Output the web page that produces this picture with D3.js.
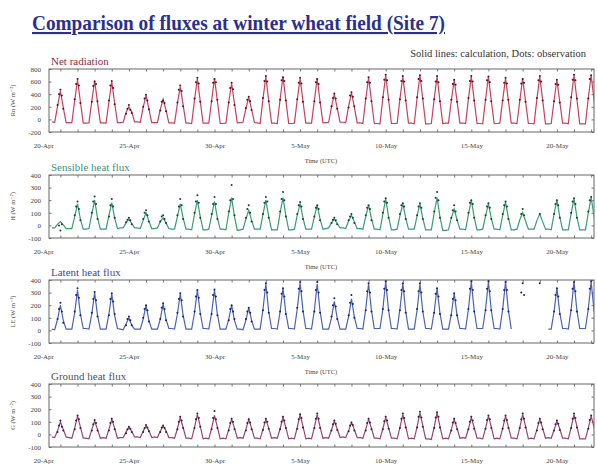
<!DOCTYPE html>
<html>
<head>
  <style>
    body { margin: 0; background: #fff; }
    svg text { font-family: "Liberation Serif", "DejaVu Serif", serif; }
    .line { fill: none; stroke-width: 1.2; }
  </style>
</head>
<body>
<svg id="chart" width="597" height="470"></svg>
<script src="https://d3js.org/d3.v7.min.js"></script>
<script>
// daily rows, calculation at peak -12,-8,-4,0,+4,+8 h ; observation at peak -4,-2,0,+2,+4 h
// first row = 21-Apr, last row = 22-May
const calcHours = [-12, -8, -4, 0, 4, 8];
const obsHours = [-4, -2, 0, 2, 4];
const dateTicks = ["2003-04-20", "2003-04-25", "2003-04-30", "2003-05-05", "2003-05-10", "2003-05-15", "2003-05-20"];

const rnCalc = [
  [-40,-45,210,450,190,-50],[-50,-55,300,630,280,-60],[-60,-55,290,615,270,-55],[-55,-60,280,600,260,-50],
  [-50,-45,110,200,120,-40],[-40,-45,190,380,170,-50],[-50,-50,160,320,150,-55],[-55,-60,250,520,230,-60],
  [-60,-65,310,650,290,-60],[-60,-60,300,650,300,-65],[-65,-60,280,570,250,-55],[-50,-45,170,350,160,-50],
  [-55,-65,330,680,300,-60],[-60,-65,320,680,310,-65],[-65,-60,310,650,290,-60],[-60,-60,300,650,280,-55],
  [-50,-45,200,400,180,-45],[-45,-50,210,420,200,-55],[-55,-65,320,660,300,-65],[-65,-70,340,700,320,-65],
  [-65,-65,330,680,310,-60],[-60,-70,340,700,320,-70],[-70,-65,330,680,300,-65],[-60,-60,300,625,290,-60],
  [-60,-65,330,680,310,-65],[-65,-70,320,680,300,-65],[-65,-60,310,650,300,-60],[-60,-65,300,650,290,-65],
  [-65,-70,330,680,310,-70],[-70,-65,300,625,280,-60],[-60,-70,340,700,320,-70],[-70,-70,340,700,320,-65]
];
const rnObs = [
  [230,400,470,380,170],[320,560,640,540,260],[280,530,600,560,290],[300,540,610,500,240],
  [90,170,230,150,100],[200,330,390,300,160],[140,280,300,260,130],[270,470,540,450,210],
  [330,590,660,570,280],[290,580,640,590,310],[270,500,580,480,230],[180,310,360,290,150],
  [340,610,690,600,290],[310,620,670,610,300],[320,580,660,570,280],[290,590,640,560,270],
  [210,340,410,330,170],[190,380,430,360,210],[330,590,670,580,290],[350,630,710,620,310],
  [320,610,690,600,300],[350,640,700,610,330],[320,600,690,590,290],[310,560,630,550,280],
  [340,610,690,600,300],[310,620,680,590,290],[300,580,660,570,310],[310,570,640,580,280],
  [340,620,690,600,300],[290,560,630,550,270],[350,630,710,620,330],[330,640,700,null,null]
];

const hCalc = [
  [-20,-20,10,30,5,-25],[-25,-25,70,170,50,-30],[-30,-25,90,200,60,-30],[-30,-30,80,180,60,-25],
  [-20,-20,20,50,15,-20],[-20,-25,40,100,35,-25],[-25,-20,30,60,20,-25],[-30,-30,70,170,60,-30],
  [-30,-35,90,200,70,-35],[-35,-30,80,190,60,-30],[-30,-35,100,220,70,-40],[-35,-30,50,120,40,-30],
  [-30,-30,90,200,70,-35],[-35,-35,100,220,80,-35],[-35,-30,80,175,60,-30],[-30,-30,70,160,50,-30],
  [-25,-20,20,50,15,-20],[-20,-25,35,80,30,-25],[-25,-30,70,160,55,-30],[-30,-35,90,210,70,-35],
  [-35,-30,80,170,60,-30],[-30,-30,75,170,55,-35],[-35,-35,100,220,70,-40],[-40,-35,60,130,45,-30],
  [-30,-35,90,200,65,-35],[-35,-30,75,170,55,-30],[-30,-35,80,185,60,-35],[-35,-30,45,100,35,-30],
  [-30,-30,40,90,30,-30],[-30,-35,90,200,70,-35],[-35,-35,95,210,70,-35],[-35,-35,100,220,75,-30]
];
const hObs = [
  [null,0,-40,10,null],[80,150,190,130,40],[100,190,230,170,50],[70,160,210,150,60],
  [25,45,60,40,10],[50,100,120,80,30],[30,70,80,50,20],[80,150,210,160,50],
  [100,190,240,180,60],[90,170,225,170,50],[110,200,320,210,80],[60,130,160,100,30],
  [90,180,225,190,60],[110,210,265,200,70],[90,160,185,150,50],[70,140,160,130,40],
  [20,45,60,40,10],[40,70,90,60,20],[80,140,160,130,40],[100,190,215,180,60],
  [90,160,175,150,50],[80,150,175,140,50],[110,220,265,200,60],[60,120,160,110,40],
  [100,180,200,170,60],[80,150,175,140,50],[90,160,190,150,50],[null,90,130,80,null],
  [null,null,90,null,null],[90,170,200,160,60],[100,190,215,170,60],[110,200,225,null,null]
];

const leCalc = [
  [10,5,90,200,80,10],[10,10,140,320,130,15],[15,10,130,300,120,10],[10,10,130,290,120,15],
  [10,5,50,100,40,10],[10,10,90,200,80,10],[10,10,90,210,90,15],[15,10,130,290,120,10],
  [10,10,140,320,140,15],[15,10,140,320,130,10],[10,10,90,200,80,10],[10,5,80,180,80,10],
  [10,10,170,370,150,15],[15,10,150,335,140,15],[15,10,170,375,160,15],[15,10,160,370,150,10],
  [10,10,100,230,100,10],[10,10,110,250,110,15],[15,10,170,370,160,15],[15,15,170,385,160,15],
  [15,10,170,375,150,10],[10,10,160,370,150,15],[15,10,150,335,140,10],[10,10,130,295,120,15],
  [15,10,170,385,160,15],[15,15,170,385,160,15],[15,10,170,385,160,10],[null,null,null,null,null,null],
  [null,null,null,null,null,null],[10,10,150,335,140,15],[15,10,170,385,160,15],[15,15,170,385,160,15]
];
const leObs = [
  [90,170,220,150,60],[150,280,335,260,120],[140,250,305,240,110],[120,250,295,230,130],
  [40,90,110,80,40],[100,170,200,160,70],[90,180,215,170,80],[140,250,295,240,110],
  [150,270,320,260,130],[130,280,325,270,120],[80,170,200,150,90],[90,150,180,140,70],
  [160,320,375,300,140],[150,290,335,270,130],[180,330,385,310,150],[150,320,385,300,140],
  [110,200,255,190,90],[120,220,280,210,100],[160,310,375,300,150],[170,330,390,320,160],
  [160,320,375,310,140],[170,310,375,300,150],[140,290,335,270,130],[120,250,295,240,120],
  [170,330,390,320,150],[160,330,390,310,160],[170,320,385,320,150],[null,300,375,280,null],
  [null,null,375,null,null],[150,280,335,270,130],[160,330,385,310,150],[170,330,390,null,null]
];

const gCalc = [
  [-20,-25,30,100,40,-20],[-25,-30,50,145,60,-30],[-30,-35,40,106,40,-30],[-25,-30,40,119,50,-30],
  [-25,-25,20,56,25,-20],[-20,-25,25,67,30,-25],[-20,-25,25,67,30,-25],[-25,-30,45,134,55,-30],
  [-30,-35,55,158,65,-35],[-30,-35,50,150,60,-35],[-30,-35,40,119,50,-30],[-25,-30,40,119,50,-30],
  [-30,-35,40,119,50,-30],[-25,-30,45,134,55,-35],[-30,-35,55,158,65,-35],[-30,-35,55,158,60,-30],
  [-25,-30,35,106,45,-25],[-20,-25,30,93,40,-25],[-25,-30,40,119,50,-30],[-30,-35,45,134,55,-30],
  [-30,-35,55,158,65,-35],[-30,-35,60,171,70,-35],[-35,-40,60,171,65,-35],[-30,-35,40,119,50,-30],
  [-25,-30,45,134,55,-30],[-30,-35,50,145,60,-35],[-30,-35,50,145,60,-30],[-30,-35,55,158,65,-35],
  [-30,-35,40,119,50,-30],[-25,-30,35,106,45,-30],[-30,-35,55,158,65,-35],[-35,-35,50,145,60,-30]
];
const gObs = [
  [20,70,110,60,30],[40,110,150,120,50],[30,80,115,90,30],[30,90,125,100,40],
  [10,40,60,45,20],[20,50,75,55,25],[20,55,70,50,20],[40,100,140,110,50],
  [50,120,165,130,60],[40,130,185,120,50],[30,90,125,100,40],[30,90,120,95,40],
  [35,95,125,100,45],[40,100,140,110,50],[45,120,160,130,55],[50,125,165,125,50],
  [30,80,110,85,35],[25,70,95,75,30],[30,90,125,95,40],[40,105,140,110,45],
  [50,125,165,130,55],[55,140,180,135,60],[50,135,175,140,55],[30,95,125,90,40],
  [40,100,140,110,45],[45,115,150,120,50],[45,110,150,115,50],[50,120,165,125,55],
  [30,90,125,95,40],[30,80,110,85,35],[50,125,165,130,55],[45,115,150,null,null]
];

const panels = [
  {label: "Net radiation", labelColor: "#8e2c40", yTitle: "Rn (W m\u207B\u00B2)", line: "#c8405e", dot: "#4a1624",
   yDomain: [-200, 800], yTicks: [-200, 0, 200, 400, 600, 800], calc: rnCalc, obs: rnObs, top: 69},
  {label: "Sensible heat flux", labelColor: "#3f8f80", yTitle: "H (W m\u207B\u00B2)", line: "#3a9c74", dot: "#173f33",
   yDomain: [-100, 400], yTicks: [-100, 0, 100, 200, 300, 400], calc: hCalc, obs: hObs, top: 175},
  {label: "Latent heat flux", labelColor: "#3b4c9c", yTitle: "LE (W m\u207B\u00B2)", line: "#4a62b4", dot: "#1a2260",
   yDomain: [-100, 400], yTicks: [-100, 0, 100, 200, 300, 400], calc: leCalc, obs: leObs, top: 280},
  {label: "Ground heat flux", labelColor: "#555060", yTitle: "G (W m\u207B\u00B2)", line: "#9a4474", dot: "#35203c",
   yDomain: [-100, 400], yTicks: [-100, 0, 100, 200, 300, 400], calc: gCalc, obs: gObs, top: 384}
];

const firstPeak = Date.UTC(2003, 3, 21, 0);
function toPoints(rows, hours) {
  return rows.flatMap((r, i) => r.map((v, j) => ({
    t: new Date(firstPeak + (i * 24 + hours[j]) * 3600e3), v: v
  })));
}

const svg = d3.select("#chart");
const left = 49, right = 594, plotH = 63;

const x = d3.scaleUtc()
  .domain([new Date(Date.UTC(2003, 3, 20, 8)), new Date(Date.UTC(2003, 4, 22, 4))])
  .range([left, right]);

// title
svg.append("text")
  .attr("x", 32).attr("y", 30)
  .attr("textLength", 413).attr("lengthAdjust", "spacingAndGlyphs")
  .style("font-size", "21px").style("font-weight", "bold")
  .style("fill", "#2b308c").style("text-decoration", "underline")
  .text("Comparison of fluxes at winter wheat field (Site 7)");

svg.append("text")
  .attr("x", 586).attr("y", 57)
  .attr("text-anchor", "end")
  .style("font-size", "10.5px").style("fill", "#333")
  .text("Solid lines: calculation, Dots: observation");

svg.append("defs").append("clipPath").attr("id", "plotclip")
  .append("rect").attr("x", left).attr("y", 0).attr("width", right - left).attr("height", 470);

panels.forEach((p, pi) => {
  const y = d3.scaleLinear().domain(p.yDomain).range([p.top + plotH, p.top]);
  const g = svg.append("g");

  g.append("text")
    .attr("x", 51).attr("y", p.top - 4)
    .style("font-size", "11px").style("fill", p.labelColor)
    .text(p.label);

  // daily minor ticks top and bottom
  const dayTicks = d3.utcDay.range(x.domain()[0], x.domain()[1]);
  g.append("g")
    .attr("transform", `translate(0,${p.top})`)
    .call(d3.axisBottom(x).tickValues(dayTicks).tickSize(2.5).tickFormat(""))
    .call(a => a.select(".domain").remove())
    .selectAll("line").attr("stroke", "#777");
  g.append("g")
    .attr("transform", `translate(0,${p.top + plotH})`)
    .call(d3.axisTop(x).tickValues(dayTicks).tickSize(2.5).tickFormat(""))
    .call(a => a.select(".domain").remove())
    .selectAll("line").attr("stroke", "#777");

  // date labels
  g.append("g")
    .attr("transform", `translate(0,${p.top + plotH + 8})`)
    .call(d3.axisBottom(x)
      .tickValues(dateTicks.map(s => new Date(s + "T00:00:00Z")))
      .tickSize(0)
      .tickFormat(d3.utcFormat("%-d-%b")))
    .call(a => a.select(".domain").remove())
    .selectAll("text")
    .style("font-family", "Liberation Serif, serif")
    .style("font-size", "7px").style("fill", "#444");

  if (pi < panels.length - 1) {
    g.append("text")
      .attr("x", 321).attr("y", p.top + plotH + 31)
      .attr("text-anchor", "middle")
      .style("font-size", "6.5px").style("fill", "#444")
      .text("Time (UTC)");
  }

  // y axis
  g.append("g")
    .attr("transform", `translate(${left},0)`)
    .call(d3.axisRight(y).tickValues(p.yTicks).tickSize(2.5).tickFormat(""))
    .call(a => a.select(".domain").remove())
    .selectAll("line").attr("stroke", "#777");
  g.append("g")
    .attr("transform", `translate(${right},0)`)
    .call(d3.axisLeft(y).tickValues(p.yTicks).tickSize(2.5).tickFormat(""))
    .call(a => a.select(".domain").remove())
    .selectAll("line").attr("stroke", "#777");
  g.append("g")
    .attr("transform", `translate(${left - 5},0)`)
    .call(d3.axisLeft(y).tickValues(p.yTicks).tickSize(0).tickFormat(d => String(d)))
    .call(a => a.select(".domain").remove())
    .selectAll("text")
    .style("font-family", "Liberation Serif, serif")
    .style("font-size", "7px").style("fill", "#444");

  g.append("text")
    .attr("transform", `translate(15,${p.top + plotH / 2}) rotate(-90)`)
    .attr("text-anchor", "middle")
    .style("font-size", "6.5px").style("fill", "#444")
    .text(p.yTitle);

  // box
  g.append("rect")
    .attr("x", left).attr("y", p.top)
    .attr("width", right - left).attr("height", plotH)
    .attr("fill", "none").attr("stroke", "#666").attr("stroke-width", 1);

  const series = g.append("g").attr("clip-path", "url(#plotclip)");

  const calcPts = toPoints(p.calc, calcHours);
  const line = d3.line()
    .defined(d => d.v != null)
    .x(d => x(d.t))
    .y(d => y(d.v));
  series.append("path")
    .datum(calcPts)
    .attr("class", "line")
    .attr("stroke", p.line)
    .attr("d", line);

  const obsPts = toPoints(p.obs, obsHours).filter(d => d.v != null);
  series.selectAll("circle")
    .data(obsPts)
    .enter()
    .append("circle")
    .attr("cx", d => x(d.t))
    .attr("cy", d => y(d.v))
    .attr("r", 1)
    .attr("fill", p.dot);
});
</script>
</body>
</html>
